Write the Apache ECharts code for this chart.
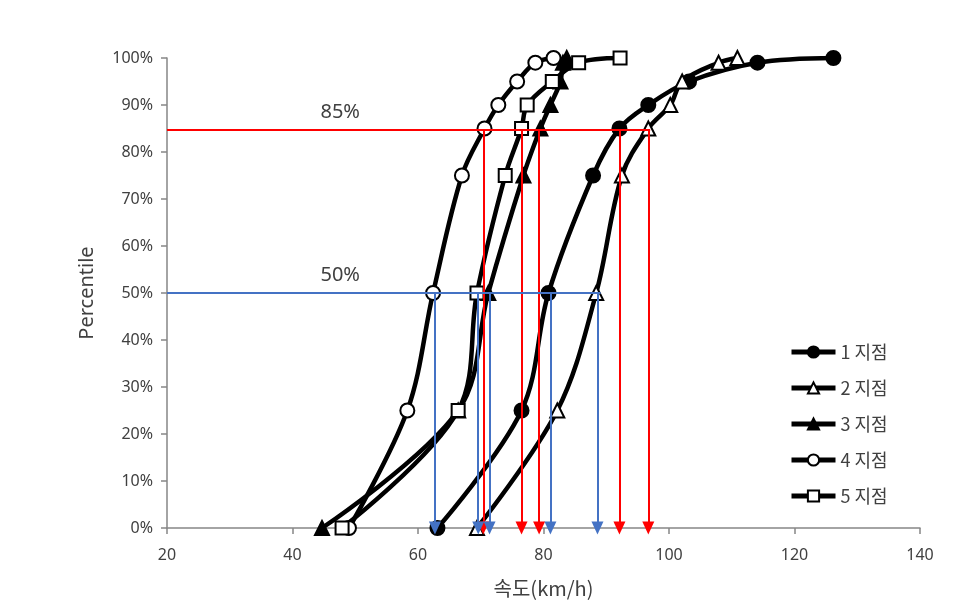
<!DOCTYPE html>
<html><head><meta charset="utf-8">
<script src="https://cdn.jsdelivr.net/npm/echarts@6/dist/echarts.min.js"></script>
<style>html,body{margin:0;padding:0;background:#fff}#c{width:972px;height:609px}</style>
</head><body><div id="c"></div>
<script>
// Percentile levels (y, in %)
const percentiles = [0, 25, 50, 75, 85, 90, 95, 99, 100];
// Speeds (km/h) per site at each percentile
const site1 = [63.1, 76.5, 80.8, 87.9, 92.1, 96.7, 103.2, 114.1, 126.2];
const site2 = [69.4, 82.2, 88.4, 92.5, 96.7, 100.2, 102.1, 107.9, 110.9];
const site3 = [44.7, 66.4, 71.2, 76.8, 79.5, 81.1, 82.7, 83.1, 83.7];
const site4 = [49.0, 58.3, 62.4, 67.0, 70.6, 72.8, 75.8, 78.7, 81.6];
const site5 = [47.9, 66.4, 69.4, 73.9, 76.5, 77.4, 81.4, 85.6, 92.2];
const siteNames = ['1 지점', '2 지점', '3 지점', '4 지점', '5 지점'];
// Reference levels and arrow positions
const p85Level = 84.7;
const p85Speeds = [70.4, 76.5, 79.3, 92.1, 96.7];
const p85LineEnd = 97.0;
const p50Level = 50;
const p50Speeds = [62.7, 69.6, 71.4, 81.1, 88.6];
const p50LineEnd = 89.1;
const refLabels = [{text: '85%', x: 47.6, y: 88.5}, {text: '50%', x: 47.6, y: 53.8}];
const xTicks = {min: 20, max: 140, interval: 20};

const sites = [site1, site2, site3, site4, site5];
const symbols = ['circle', 'triangle', 'triangle', 'circle', 'rect'];
const filled = [true, false, true, false, false];

const series = sites.map((s, i) => ({
  name: siteNames[i],
  type: 'line',
  smooth: 0.35,
  data: s.map((v, k) => [v, percentiles[k]]),
  symbol: symbols[i],
  symbolSize: symbols[i] === 'rect' ? 13 : 14,
  lineStyle: {color: '#000', width: 4.5},
  itemStyle: {color: filled[i] ? '#000' : '#fff', borderColor: '#000', borderWidth: 2},
  z: 3
}));

function refLines(level, speeds, end, color) {
  const data = [[{coord: [20, level], symbol: 'none'}, {coord: [end, level], symbol: 'none'}]];
  speeds.forEach(v => data.push([{coord: [v, level], symbol: 'none'}, {coord: [v, 0], symbol: 'triangle'}]));
  return {
    type: 'line', data: [], silent: true, z: 4,
    markLine: {
      silent: true, animation: false,
      symbolSize: [12, 13],
      lineStyle: {color: color, width: 2, type: 'solid'},
      itemStyle: {color: color},
      label: {show: false},
      data: data
    }
  };
}
series.push(refLines(p85Level, p85Speeds, p85LineEnd, '#ff0000'));
series.push(refLines(p50Level, p50Speeds, p50LineEnd, '#4472c4'));
series.push({
  type: 'scatter', data: [], silent: true,
  markPoint: {
    symbol: 'circle', symbolSize: 0, animation: false,
    label: {show: true, position: 'inside', color: '#404040', fontSize: 20, fontFamily: 'Noto Sans', formatter: p => p.name},
    data: refLabels.map(l => ({name: l.text, coord: [l.x, l.y]}))
  }
});

const chart = echarts.init(document.getElementById('c'), null, {renderer: 'canvas'});
chart.setOption({
  animation: false,
  backgroundColor: '#fff',
  textStyle: {fontFamily: 'Noto Sans'},
  grid: {left: 167, right: 52, top: 58, bottom: 81},
  legend: {
    orient: 'vertical', left: 784, top: 338,
    itemWidth: 44, itemHeight: 14, itemGap: 18,
    data: siteNames,
    lineStyle: {width: 5, color: '#000'},
    textStyle: {fontSize: 18, color: '#404040', fontFamily: 'Noto Sans CJK KR', lineHeight: 17}
  },
  xAxis: {
    type: 'value', min: xTicks.min, max: xTicks.max, interval: xTicks.interval,
    name: '속도(km/h)', nameLocation: 'middle', nameGap: 50,
    nameTextStyle: {fontSize: 20, color: '#404040', fontFamily: 'Noto Sans CJK KR'},
    axisLine: {show: true, lineStyle: {color: '#868686', width: 1.5}},
    axisTick: {show: true, length: 6, lineStyle: {color: '#868686', width: 1.5}},
    axisLabel: {color: '#404040', fontSize: 16, margin: 19},
    splitLine: {show: false}
  },
  yAxis: {
    type: 'value', min: 0, max: 100, interval: 10,
    name: 'Percentile', nameLocation: 'middle', nameGap: 70,
    nameTextStyle: {fontSize: 20, color: '#404040'},
    axisLine: {show: true, lineStyle: {color: '#868686', width: 1.5}},
    axisTick: {show: true, length: 6, lineStyle: {color: '#868686', width: 1.5}},
    axisLabel: {color: '#404040', fontSize: 16, margin: 14, formatter: '{value}%'},
    splitLine: {show: false}
  },
  series: series
});
</script></body></html>
